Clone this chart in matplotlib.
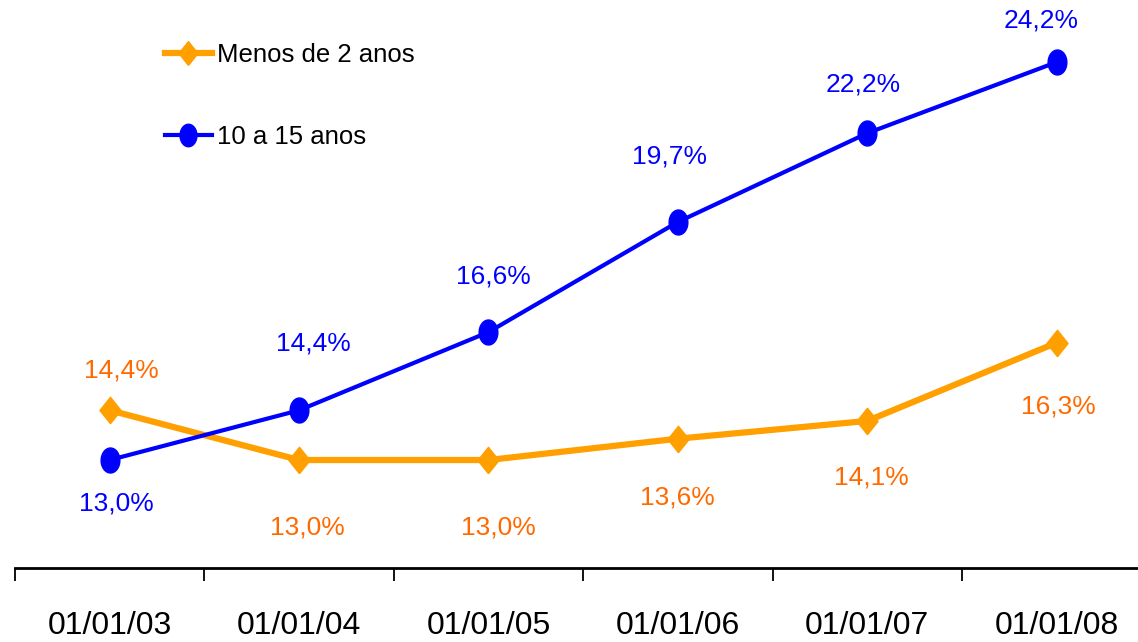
import numpy as np
import matplotlib
matplotlib.use("Agg")
import matplotlib.pyplot as plt

# ---- data ----
categories = ["01/01/03", "01/01/04", "01/01/05", "01/01/06", "01/01/07", "01/01/08"]
menos_2 = [14.4, 13.0, 13.0, 13.6, 14.1, 16.3]
dez_15 = [13.0, 14.4, 16.6, 19.7, 22.2, 24.2]
series_names = ["Menos de 2 anos", "10 a 15 anos"]

# label offsets (pixels)
off_orange = [(12, 40), (8, -67), (10, -67), (0, -59), (4, -57), (2, -64)]
off_blue = [(7, -43), (14, 67), (5, 56), (-8, 66), (-4, 49), (-15, 42)]

plt.rcParams["font.family"] = ["Liberation Sans", "DejaVu Sans"]

ORANGE_LINE = "#FFA000"
ORANGE_TXT = "#FF6A00"
BLUE = "#0000FF"

fig = plt.figure(figsize=(11.38, 6.42), dpi=100)
ax = fig.add_axes([15 / 1138, 1 - 568 / 642, 1 - 15 / 1138, 568 / 642])

x = np.arange(len(categories))

diamond = [(0, -1.25), (1, 0), (0, 1.25), (-1, 0), (0, -1.25)]
t = np.linspace(0, 2 * np.pi, 40)
ellipse = list(zip(np.cos(t) * 0.75, np.sin(t)))

ax.plot(x, menos_2, color=ORANGE_LINE, lw=4.5, marker=diamond, ms=19,
        mec=ORANGE_LINE, mfc=ORANGE_LINE, label=series_names[0], clip_on=False)
ax.plot(x, dez_15, color=BLUE, lw=3.0, marker=ellipse, ms=18,
        mec=BLUE, mfc=BLUE, label=series_names[1], clip_on=False)

for xi, v, (dx, dy) in zip(x, menos_2, off_orange):
    ax.annotate(f"{v:.1f}%".replace(".", ","), (xi, v), xytext=(dx, dy),
                textcoords="offset pixels", ha="center", va="center",
                color=ORANGE_TXT, fontsize=19)
for xi, v, (dx, dy) in zip(x, dez_15, off_blue):
    ax.annotate(f"{v:.1f}%".replace(".", ","), (xi, v), xytext=(dx, dy),
                textcoords="offset pixels", ha="center", va="center",
                color=BLUE, fontsize=19)

ax.set_xlim(-0.5, 5.43)
ax.set_ylim(9.96, 25.95)

for s in ["top", "right", "left"]:
    ax.spines[s].set_visible(False)
ax.spines["bottom"].set_linewidth(2)
ax.set_yticks([])
ax.set_xticks(x)
ax.set_xticklabels(categories, fontsize=23)
ax.tick_params(axis="x", which="major", length=0, pad=31)
ax.set_xticks(np.arange(-0.5, 5.0, 1.0), minor=True)
ax.tick_params(axis="x", which="minor", length=9, width=1.3, direction="out")

leg = ax.legend(loc="upper left", bbox_to_anchor=(0.1244, 1 - 33 / 568),
                frameon=False, fontsize=18.5, handlelength=1.83, handletextpad=0.2,
                labelspacing=2.25, borderaxespad=0, markerscale=0.9)

fig.savefig("out.png", dpi=100)
